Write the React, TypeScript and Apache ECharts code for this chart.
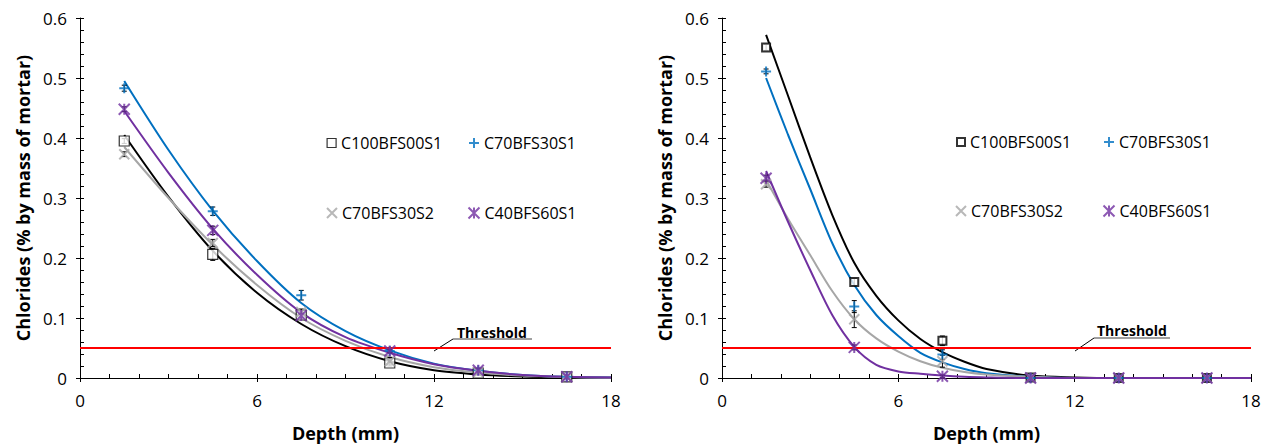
import React, { useEffect, useRef } from 'react';
import * as echarts from 'echarts';

// ---------- data ----------
const names = ['C100BFS00S1', 'C70BFS30S1', 'C70BFS30S2', 'C40BFS60S1'];
const depths = [1.5, 4.5, 7.5, 10.5, 13.5, 16.5];

// left panel – measured
const leftC100BFS00S1 = [0.395, 0.206, 0.105, 0.025, 0.008, 0.002];
const leftC70BFS30S1 = [0.483, 0.278, 0.138, 0.045, 0.013, 0.002];
const leftC70BFS30S2 = [0.373, 0.225, 0.11, 0.028, 0.01, 0.002];
const leftC40BFS60S1 = [0.448, 0.246, 0.104, 0.045, 0.013, 0.002];

// left panel – error (± half range)
const leftErrC100BFS00S1 = [0.004, 0.01, 0.005, 0.005, 0.003, 0.001];
const leftErrC70BFS30S1 = [0.005, 0.007, 0.008, 0.003, 0.002, 0.001];
const leftErrC70BFS30S2 = [0.004, 0.006, 0.005, 0.006, 0.002, 0.001];
const leftErrC40BFS60S1 = [0.004, 0.007, 0.005, 0.003, 0.002, 0.001];

// left panel – fitted curves
const leftFitDepths = [1.5, 3, 4.5, 6, 7.5, 9, 10.5, 12, 13.5, 15, 16.5, 18];
const leftFitC100BFS00S1 = [0.405, 0.302, 0.212, 0.142, 0.09, 0.053, 0.028, 0.013, 0.006, 0.0025, 0.001, 0.0003];
const leftFitC70BFS30S1 = [0.495, 0.38, 0.279, 0.195, 0.125, 0.078, 0.046, 0.024, 0.012, 0.005, 0.002, 0.001];
const leftFitC70BFS30S2 = [0.385, 0.3, 0.222, 0.155, 0.1, 0.062, 0.035, 0.018, 0.009, 0.004, 0.0015, 0.0005];
const leftFitC40BFS60S1 = [0.445, 0.342, 0.249, 0.172, 0.109, 0.068, 0.042, 0.023, 0.012, 0.005, 0.002, 0.001];

// right panel – measured
const rightC100BFS00S1 = [0.551, 0.16, 0.062, 0.001, 0.0, 0.0];
const rightC70BFS30S1 = [0.511, 0.119, 0.039, 0.0, 0.0, 0.0];
const rightC70BFS30S2 = [0.323, 0.098, 0.028, 0.0, 0.0, 0.0];
const rightC40BFS60S1 = [0.333, 0.051, 0.003, 0.0, 0.0, 0.0];

// right panel – error (± half range)
const rightErrC100BFS00S1 = [0.005, 0.006, 0.008, 0.001, 0, 0];
const rightErrC70BFS30S1 = [0.004, 0.01, 0.008, 0, 0, 0];
const rightErrC70BFS30S2 = [0.005, 0.014, 0.01, 0, 0, 0];
const rightErrC40BFS60S1 = [0.005, 0.004, 0.002, 0, 0, 0];

// right panel – fitted curves
const rightFitDepths = [1.5, 2.25, 3, 3.75, 4.5, 5.25, 6, 6.75, 7.5, 8.25, 9, 10.5, 12, 13.5, 15, 16.5, 18];
const rightFitC100BFS00S1 = [0.572, 0.47, 0.368, 0.272, 0.192, 0.137, 0.096, 0.065, 0.043, 0.027, 0.015, 0.004, 0.001, 0, 0, 0, 0];
const rightFitC70BFS30S1 = [0.5, 0.405, 0.315, 0.225, 0.155, 0.105, 0.07, 0.042, 0.026, 0.015, 0.008, 0.002, 0, 0, 0, 0, 0];
const rightFitC70BFS30S2 = [0.33, 0.265, 0.205, 0.145, 0.098, 0.066, 0.044, 0.028, 0.017, 0.01, 0.006, 0.002, 0, 0, 0, 0, 0];
const rightFitC40BFS60S1 = [0.345, 0.26, 0.18, 0.105, 0.052, 0.022, 0.011, 0.007, 0.004, 0.002, 0.001, 0, 0, 0, 0, 0, 0];

const thresholdValue = 0.05;
const thresholdDepths = [0, 18];

const xMin = 0, xMax = 18, xInterval = 6;
const yMin = 0, yMax = 0.6, yInterval = 0.1;

// ---------- styles ----------
const FONT = '"Open Sans", "Noto Sans", sans-serif';
const COLORS = ['#000000', '#0070C0', '#A6A6A6', '#7030A0'];
const SYM_PLUS = 'path://M5,0L5,10M0,5L10,5';
const SYM_X = 'path://M0,0L10,10M10,0L0,10';
const SYM_AST = 'path://M0,0L10,10M10,0L0,10M5,0L5,10';

const pairs = (xs: number[], ys: number[]) => xs.map((x, i) => [x, ys[i]]);

function axesFor(gridIndex: number) {
  const common = { gridIndex, min: xMin, max: xMax, interval: xInterval, type: 'value' as const };
  const x = [
    {
      ...common,
      position: 'bottom',
      axisLine: { show: true, onZero: false, lineStyle: { color: '#000', width: 1 } },
      axisTick: { show: true, inside: true, length: 4, lineStyle: { color: '#000' } },
      minorTick: { show: true, splitNumber: 6, length: 4, lineStyle: { color: '#000' } },
      axisLabel: { show: true, margin: 14, color: '#000', fontSize: 17, fontFamily: FONT },
      splitLine: { show: false },
      name: 'Depth (mm)',
      nameLocation: 'middle',
      nameGap: 46,
      nameTextStyle: { color: '#000', fontSize: 18, fontWeight: 'bold', fontFamily: FONT },
    },
    {
      ...common,
      position: 'bottom',
      axisLine: { show: false, onZero: false },
      axisTick: { show: true, inside: false, length: 4, lineStyle: { color: '#000' } },
      axisLabel: { show: false },
      splitLine: { show: false },
    },
  ];
  const ycommon = { gridIndex, min: yMin, max: yMax, interval: yInterval, type: 'value' as const };
  const y = [
    {
      ...ycommon,
      position: 'left',
      axisLine: { show: true, onZero: false, lineStyle: { color: '#000', width: 1 } },
      axisTick: { show: true, inside: true, length: 4, lineStyle: { color: '#000' } },
      minorTick: { show: true, splitNumber: 5, length: 4, lineStyle: { color: '#000' } },
      axisLabel: { show: true, margin: 13, color: '#000', fontSize: 17, fontFamily: FONT },
      splitLine: { show: false },
      name: 'Chlorides (% by mass of mortar)',
      nameLocation: 'middle',
      nameGap: 48,
      nameTextStyle: { color: '#000', fontSize: 18, fontWeight: 'bold', fontFamily: FONT },
    },
    {
      ...ycommon,
      position: 'left',
      axisLine: { show: false, onZero: false },
      axisTick: { show: true, inside: false, length: 4, lineStyle: { color: '#000' } },
      axisLabel: { show: false },
      splitLine: { show: false },
    },
  ];
  return { x, y };
}

function errorSeries(name: string, axisIndex: number, ys: number[], errs: number[]) {
  return {
    type: 'custom',
    name,
    xAxisIndex: axisIndex,
    yAxisIndex: axisIndex,
    data: depths.map((d, i) => [d, ys[i] - errs[i], ys[i] + errs[i]]),
    silent: true,
    z: 3,
    renderItem: (_params: any, api: any) => {
      const lo = api.coord([api.value(0), api.value(1)]);
      const hi = api.coord([api.value(0), api.value(2)]);
      const w = 2.5;
      const st = { stroke: '#000', lineWidth: 1 };
      return {
        type: 'group',
        children: [
          { type: 'line', shape: { x1: lo[0], y1: lo[1], x2: hi[0], y2: hi[1] }, style: st },
          { type: 'line', shape: { x1: lo[0] - w, y1: lo[1], x2: lo[0] + w, y2: lo[1] }, style: st },
          { type: 'line', shape: { x1: hi[0] - w, y1: hi[1], x2: hi[0] + w, y2: hi[1] }, style: st },
        ],
      };
    },
  };
}

function panelSeries(
  prefix: string,
  axisIndex: number,
  measured: number[][],
  errors: number[][],
  fitX: number[],
  fits: number[][],
  squareSize: number,
  squareBorder: number
) {
  const out: any[] = [];
  fits.forEach((ys, i) => {
    out.push({
      type: 'line',
      name: 'fit ' + prefix + names[i],
      xAxisIndex: axisIndex,
      yAxisIndex: axisIndex,
      data: pairs(fitX, ys),
      smooth: 0.3,
      showSymbol: false,
      symbol: 'none',
      lineStyle: { color: COLORS[i], width: 2 },
      itemStyle: { color: COLORS[i] },
      silent: true,
      z: 2,
    });
  });
  out.push({
    type: 'line',
    name: 'Threshold ' + prefix,
    xAxisIndex: axisIndex,
    yAxisIndex: axisIndex,
    data: pairs(thresholdDepths, thresholdDepths.map(() => thresholdValue)),
    showSymbol: false,
    symbol: 'none',
    lineStyle: { color: '#FF0000', width: 2 },
    silent: true,
    z: 3,
  });
  measured.forEach((ys, i) => {
    out.push(errorSeries('err ' + prefix + names[i], axisIndex, ys, errors[i]));
  });
  const symbols = ['rect', SYM_PLUS, SYM_X, SYM_AST];
  const sizes = [squareSize, 10, 10, 11];
  const itemStyles = [
    { color: '#ffffff', borderColor: '#000', borderWidth: squareBorder },
    { color: 'rgba(0,0,0,0)', borderColor: COLORS[1], borderWidth: 2 },
    { color: 'rgba(0,0,0,0)', borderColor: COLORS[2], borderWidth: 2 },
    { color: 'rgba(0,0,0,0)', borderColor: COLORS[3], borderWidth: 2 },
  ];
  measured.forEach((ys, i) => {
    out.push({
      type: 'scatter',
      name: prefix + names[i],
      xAxisIndex: axisIndex,
      yAxisIndex: axisIndex,
      data: pairs(depths, ys),
      symbol: symbols[i],
      symbolSize: sizes[i],
      itemStyle: itemStyles[i],
      silent: true,
      z: 4,
    });
  });
  return out;
}

function legendItem(name: string, cx: number, cy: number, size: number, border: number) {
  return {
    data: [name],
    left: cx - size / 2,
    top: cy - 10,
    padding: 0,
    itemWidth: size,
    itemHeight: size,
    itemGap: 0,
    selectedMode: false,
    formatter: (n: string) => n.replace(/^R /, ''),
    itemStyle: { borderWidth: border },
    textStyle: { color: '#000', fontSize: 16, fontFamily: FONT },
  };
}

function thresholdNote(tx: number, ty: number, ux1: number, ux2: number, uy: number, lx: number, ly: number) {
  return [
    {
      type: 'text',
      x: tx,
      y: ty,
      style: { text: 'Threshold', fill: '#000', font: 'bold 14px "Open Sans", sans-serif', align: 'left', verticalAlign: 'middle' },
    },
    { type: 'line', shape: { x1: ux1, y1: uy, x2: ux2, y2: uy }, style: { stroke: '#404040', lineWidth: 1 } },
    { type: 'line', shape: { x1: lx, y1: ly, x2: ux1, y2: uy }, style: { stroke: '#000', lineWidth: 1 } },
  ];
}

export default function App() {
  const ref = useRef<HTMLDivElement>(null);
  useEffect(() => {
    if (!ref.current) return;
    const chart = echarts.init(ref.current, undefined, { renderer: 'svg' });
    const a0 = axesFor(0);
    const a1 = axesFor(1);
    const series = [
      ...panelSeries('', 0,
        [leftC100BFS00S1, leftC70BFS30S1, leftC70BFS30S2, leftC40BFS60S1],
        [leftErrC100BFS00S1, leftErrC70BFS30S1, leftErrC70BFS30S2, leftErrC40BFS60S1],
        leftFitDepths,
        [leftFitC100BFS00S1, leftFitC70BFS30S1, leftFitC70BFS30S2, leftFitC40BFS60S1],
        10, 1.2),
      ...panelSeries('R ', 2,
        [rightC100BFS00S1, rightC70BFS30S1, rightC70BFS30S2, rightC40BFS60S1],
        [rightErrC100BFS00S1, rightErrC70BFS30S1, rightErrC70BFS30S2, rightErrC40BFS60S1],
        rightFitDepths,
        [rightFitC100BFS00S1, rightFitC70BFS30S1, rightFitC70BFS30S2, rightFitC40BFS60S1],
        8, 2),
    ];
    chart.setOption({
      animation: false,
      backgroundColor: '#ffffff',
      grid: [
        { left: 80, top: 18, width: 531, height: 365 },
        { left: 722, top: 18, width: 529, height: 365 },
      ],
      xAxis: [...a0.x, ...a1.x],
      yAxis: [...a0.y, ...a1.y],
      legend: [
        legendItem(names[0], 331, 145, 9, 1.2),
        legendItem(names[1], 473, 145, 10, 2),
        legendItem(names[2], 331, 215, 10, 2),
        legendItem(names[3], 473, 215, 11, 2),
        legendItem('R ' + names[0], 960, 144, 8, 2),
        legendItem('R ' + names[1], 1108, 144, 10, 2),
        legendItem('R ' + names[2], 960, 213, 10, 2),
        legendItem('R ' + names[3], 1108, 213, 11, 2),
      ],
      graphic: [
        ...thresholdNote(457, 332, 453, 532, 339, 434, 351),
        ...thresholdNote(1097, 330, 1094, 1170, 338, 1075, 351),
      ],
      series,
    });
    return () => chart.dispose();
  }, []);
  return (
    <div
      ref={ref}
      style={{ position: 'absolute', left: 0, top: 0, width: 1269, height: 447, background: '#fff' }}
    />
  );
}
